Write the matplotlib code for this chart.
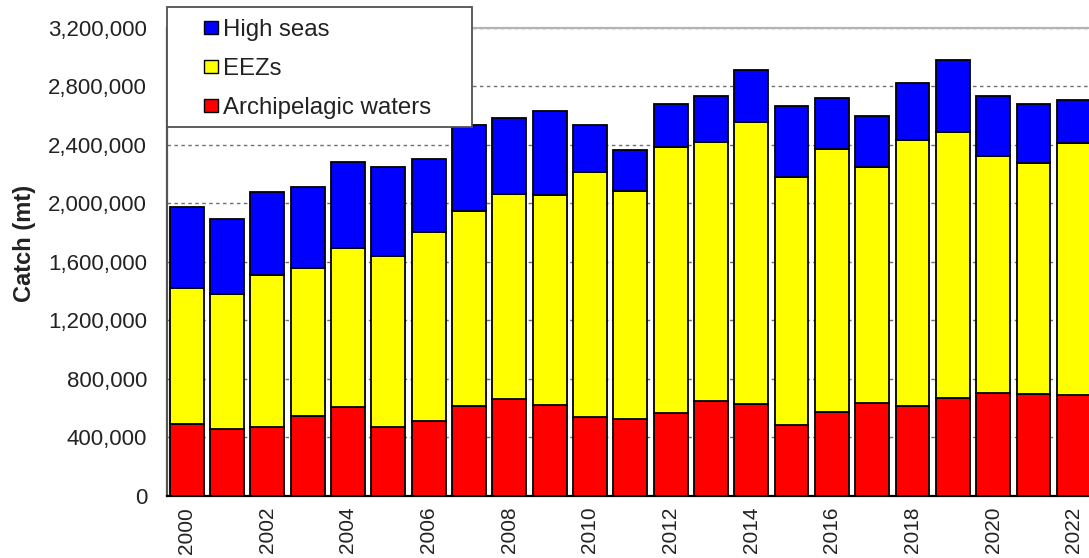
import matplotlib
matplotlib.use("Agg")
import numpy as np
import matplotlib.pyplot as plt
from matplotlib.patches import Patch, Rectangle
from matplotlib.ticker import FuncFormatter

plt.rcParams['font.family'] = ['Liberation Sans', 'DejaVu Sans']

years = list(range(2000, 2023))
# catch in tonnes
archipelagic = [492000, 456000, 470000, 547000, 606000, 468000, 509000, 616000, 663000, 618000,
                539000, 522000, 563000, 650000, 625000, 485000, 572000, 636000, 613000, 666000,
                704000, 693000, 686000]
eezs = [930000, 921000, 1037000, 1012000, 1086000, 1171000, 1296000, 1331000, 1402000, 1440000,
        1676000, 1561000, 1823000, 1766000, 1932000, 1692000, 1799000, 1609000, 1817000, 1819000,
        1621000, 1584000, 1728000]
high_seas = [554000, 513000, 567000, 550000, 590000, 606000, 499000, 585000, 515000, 574000,
             321000, 280000, 292000, 317000, 354000, 488000, 350000, 349000, 392000, 496000,
             408000, 399000, 292000]
tick_years = [str(y) if y % 2 == 0 else '' for y in years]

W, H = 1089, 558
fig = plt.figure(figsize=(W / 100, H / 100), dpi=100)
# axes runs a little past the right edge, like the cropped original
ax = fig.add_axes([166.5 / W, (H - 495.7) / H, (1094 - 166.5) / W, 468 / H])

x = np.arange(len(years))
a = np.array(archipelagic)
e = np.array(eezs)
h = np.array(high_seas)
bw = 0.84
ax.bar(x, a, bw, color='#ff0000', edgecolor='black', linewidth=1.3, zorder=3)
ax.bar(x, e, bw, bottom=a, color='#ffff00', edgecolor='black', linewidth=1.3, zorder=3)
ax.bar(x, h, bw, bottom=a + e, color='#0000ff', edgecolor='black', linewidth=1.3, zorder=3)

ax.set_xlim(-0.5, len(years) - 0.5)
ax.set_ylim(0, 3200000)
ax.set_yticks(np.arange(0, 3200001, 400000))
ax.yaxis.set_major_formatter(FuncFormatter(lambda v, p: f'{int(v):,}'))
ax.set_xticks(x)
ax.set_xticklabels(tick_years, rotation=90)
ax.tick_params(axis='both', length=0, colors='#222222')
ax.tick_params(axis='y', pad=14, labelsize=16)
ax.tick_params(axis='x', pad=8, labelsize=15)

ax.yaxis.grid(True, linestyle=(0, (2.5, 2.5)), color='#707070', linewidth=1)
ax.set_axisbelow(True)
for s in ['top', 'right']:
    ax.spines[s].set_color('#b4b4b4')
    ax.spines[s].set_linewidth(1.6)
ax.spines['left'].set_color('#555555')
ax.spines['left'].set_linewidth(1.6)
ax.spines['bottom'].set_color('black')
ax.spines['bottom'].set_linewidth(1.6)

fig.text(25 / W, 1 - 243 / H, 'Catch (mt)', rotation=90, ha='center', va='center',
         fontsize=17, fontweight='bold', color='#222222')

# legend box
box = Rectangle((166.5 / W, 1 - 127 / H), (472 - 166.5) / W, 120 / H, transform=fig.transFigure,
                facecolor='white', edgecolor='#505050', linewidth=1.3, zorder=4)
fig.add_artist(box)
handles = [Patch(facecolor='#0000ff', edgecolor='black', label='High seas'),
           Patch(facecolor='#ffff00', edgecolor='black', label='EEZs'),
           Patch(facecolor='#ff0000', edgecolor='black', label='Archipelagic waters')]
leg = fig.legend(handles=handles, loc='upper left', bbox_to_anchor=(204 / W, 1 - 19 / H),
                 frameon=False, fontsize=17.3, handlelength=0.6, handleheight=0.5,
                 handletextpad=0.2, labelspacing=0.71, borderpad=0, borderaxespad=0)
leg.set_zorder(6)
for t in leg.get_texts():
    t.set_color('#222222')

fig.savefig('out.png', dpi=100)
